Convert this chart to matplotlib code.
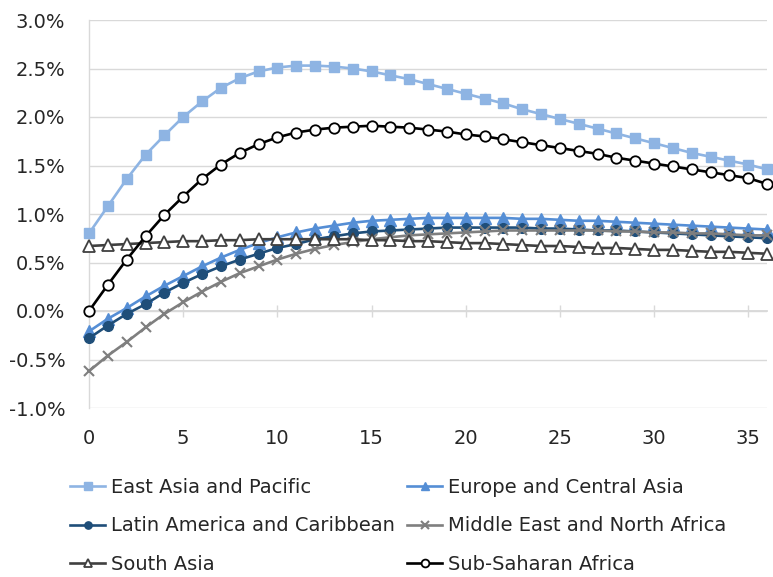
import matplotlib
matplotlib.use("Agg")
import matplotlib.pyplot as plt
from matplotlib.ticker import FuncFormatter

plt.rcParams['font.family'] = ['DejaVu Sans']

years = list(range(37))

east_asia = [0.80, 1.08, 1.36, 1.61, 1.81, 2.00, 2.16, 2.30, 2.40, 2.47, 2.51, 2.53, 2.53,
             2.52, 2.50, 2.47, 2.43, 2.39, 2.34, 2.29, 2.24, 2.19, 2.14, 2.08, 2.03, 1.98,
             1.93, 1.88, 1.83, 1.78, 1.73, 1.68, 1.63, 1.59, 1.55, 1.51, 1.46]
europe_ca = [-0.21, -0.08, 0.03, 0.15, 0.26, 0.36, 0.46, 0.55, 0.63, 0.70, 0.76, 0.81, 0.85,
             0.88, 0.91, 0.93, 0.94, 0.95, 0.96, 0.96, 0.96, 0.96, 0.96, 0.95, 0.95, 0.94,
             0.93, 0.93, 0.92, 0.91, 0.90, 0.89, 0.88, 0.87, 0.86, 0.85, 0.84]
latin_am = [-0.28, -0.15, -0.03, 0.07, 0.19, 0.29, 0.38, 0.46, 0.53, 0.59, 0.65, 0.69, 0.74,
            0.77, 0.80, 0.82, 0.83, 0.84, 0.85, 0.86, 0.86, 0.86, 0.86, 0.86, 0.85, 0.85,
            0.84, 0.83, 0.83, 0.82, 0.81, 0.80, 0.79, 0.78, 0.77, 0.76, 0.75]
mena = [-0.62, -0.46, -0.32, -0.17, -0.03, 0.09, 0.20, 0.30, 0.39, 0.46, 0.53, 0.59, 0.64,
        0.68, 0.71, 0.74, 0.76, 0.78, 0.79, 0.80, 0.81, 0.82, 0.83, 0.83, 0.83, 0.83,
        0.83, 0.83, 0.82, 0.82, 0.81, 0.81, 0.80, 0.80, 0.79, 0.78, 0.78]
south_asia = [0.67, 0.68, 0.69, 0.70, 0.71, 0.72, 0.72, 0.73, 0.73, 0.74, 0.74, 0.74, 0.74,
              0.74, 0.74, 0.73, 0.73, 0.72, 0.72, 0.71, 0.70, 0.70, 0.69, 0.68, 0.67, 0.67,
              0.66, 0.65, 0.65, 0.64, 0.63, 0.63, 0.62, 0.61, 0.61, 0.60, 0.59]
ssa = [0.00, 0.27, 0.53, 0.77, 0.99, 1.18, 1.36, 1.51, 1.63, 1.72, 1.79, 1.84, 1.87,
       1.89, 1.90, 1.91, 1.90, 1.89, 1.87, 1.85, 1.82, 1.80, 1.77, 1.74, 1.71, 1.68,
       1.65, 1.62, 1.58, 1.55, 1.52, 1.49, 1.46, 1.43, 1.40, 1.37, 1.31]

labels = ["East Asia and Pacific", "Europe and Central Asia",
          "Latin America and Caribbean", "Middle East and North Africa",
          "South Asia", "Sub-Saharan Africa"]
y_ticks = [-1.0, -0.5, 0.0, 0.5, 1.0, 1.5, 2.0, 2.5, 3.0]
x_ticks = [0, 5, 10, 15, 20, 25, 30, 35]

fig = plt.figure(figsize=(7.73, 5.77), dpi=100)
ax = fig.add_axes([89/773, 1-408/577, (767-89)/773, (408-20)/577])

grid_c = '#D9D9D9'
styles = [
    dict(color='#8EB4E3', marker='s', ms=7, mfc='#8EB4E3', mec='#8EB4E3'),
    dict(color='#558ED5', marker='^', ms=8, mfc='#558ED5', mec='#558ED5'),
    dict(color='#1F4E79', marker='o', ms=7, mfc='#1F4E79', mec='#1F4E79'),
    dict(color='#7F7F7F', marker='x', ms=7, mew=1.5),
    dict(color='#404040', marker='^', ms=8, mfc='white', mec='#404040', mew=1.3),
    dict(color='black', marker='o', ms=7.5, mfc='white', mec='black', mew=1.3),
]
series = [east_asia, europe_ca, latin_am, mena, south_asia, ssa]
handles = []
for i, (vals, st, lab) in enumerate(zip(series, styles, labels)):
    h, = ax.plot(years, vals, lw=1.9, label=lab, clip_on=False, zorder=3+i, **st)
    handles.append(h)

ax.set_xlim(0, 36)
ax.set_ylim(-1.0, 3.0)
ax.set_yticks(y_ticks)
ax.yaxis.set_major_formatter(FuncFormatter(lambda v, p: f"{v:.1f}%"))
ax.set_xticks(x_ticks)
ax.grid(axis='y', color=grid_c, lw=1)
ax.set_axisbelow(True)
for s in ['top', 'right', 'bottom']:
    ax.spines[s].set_visible(False)
ax.spines['left'].set_color(grid_c)
ax.spines['left'].set_linewidth(1)
ax.tick_params(axis='y', length=0, pad=17, labelsize=14, labelcolor='#262626')
ax.tick_params(axis='x', length=0, pad=15, labelsize=14, labelcolor='#262626')

sec = ax.secondary_xaxis(0.25)
sec.set_xticks(x_ticks[1:])
sec.tick_params(axis='x', direction='inout', length=8, color=grid_c, width=1, labelbottom=False)
for s in sec.spines.values():
    s.set_color(grid_c)
    s.set_linewidth(1.3)

order = [0, 2, 4, 1, 3, 5]
fig.legend(handles=[handles[i] for i in order], labels=[labels[i] for i in order],
           ncol=2, loc='upper left',
           bbox_to_anchor=(70/773, 1-478/577), frameon=False, fontsize=14,
           handlelength=1.8, handletextpad=0.3, columnspacing=0.65,
           labelspacing=1.0, borderpad=0, borderaxespad=0, numpoints=1,
           markerscale=0.75, labelcolor='#262626')

fig.savefig('out.png', dpi=100)
